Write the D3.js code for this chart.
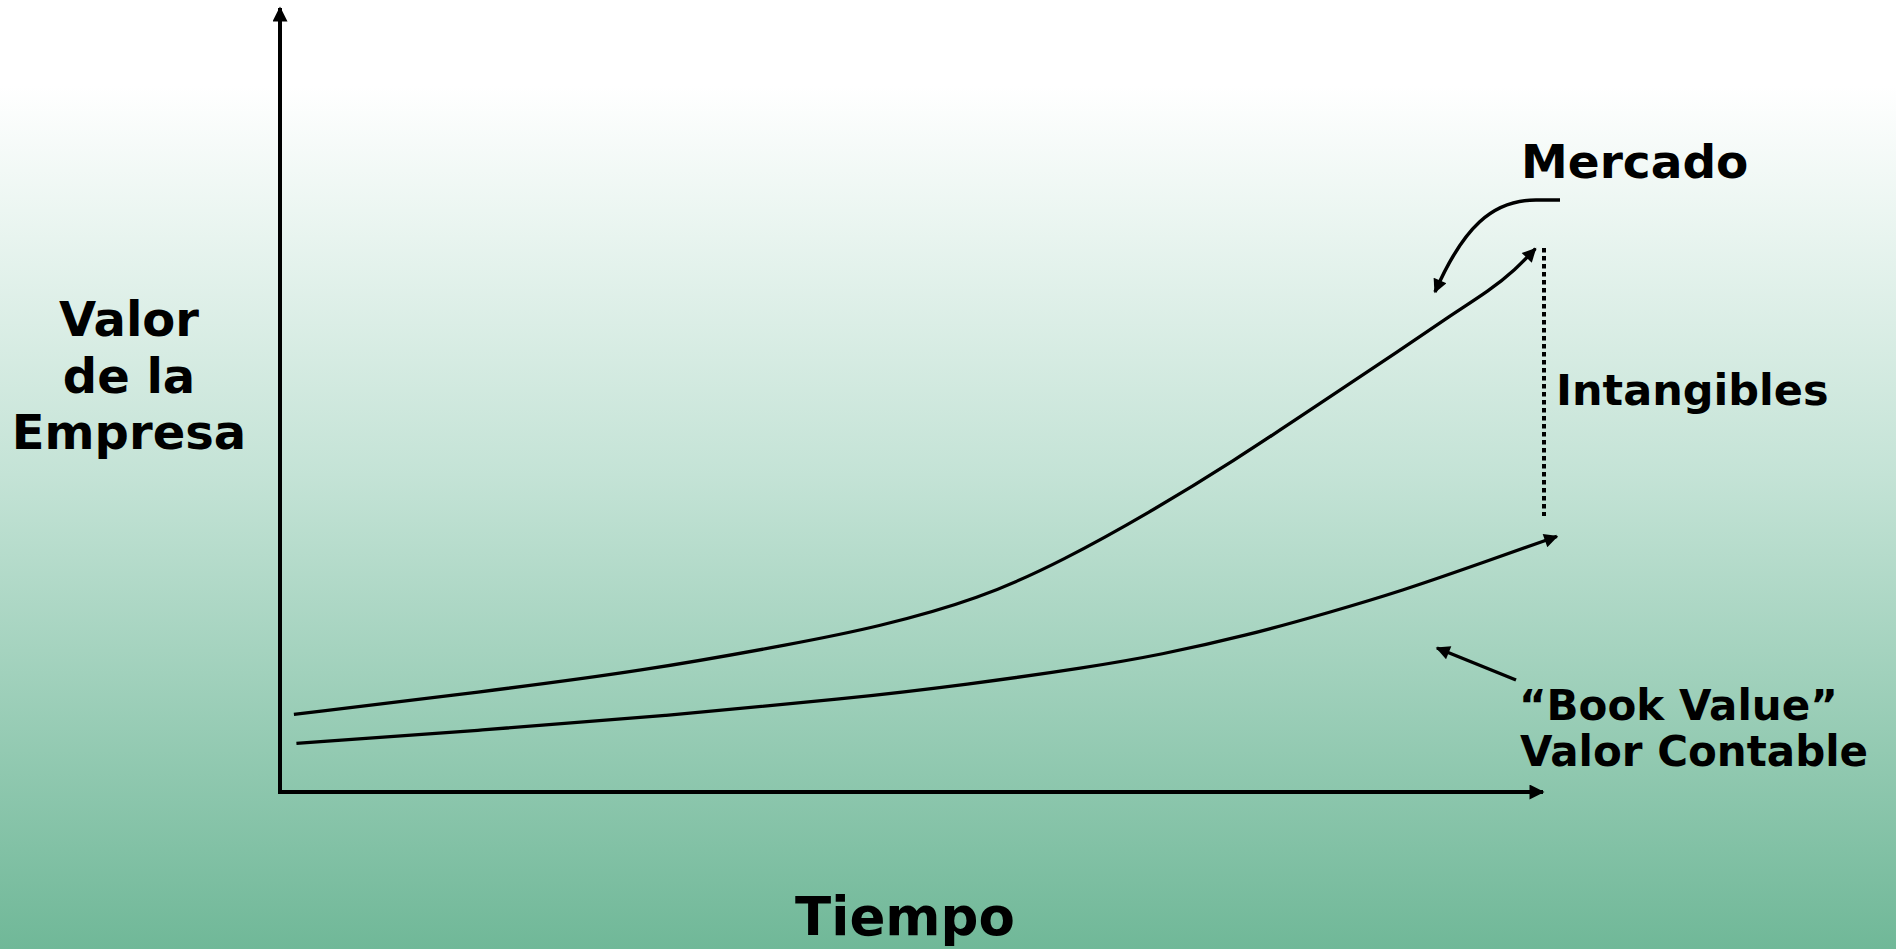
<!DOCTYPE html>
<html>
<head>
<meta charset="utf-8">
<script src="https://cdn.jsdelivr.net/npm/d3@7"></script>
<style>
html,body{margin:0;padding:0;overflow:hidden;}
svg{display:block;}
text{font-family:"DejaVu Sans",Verdana,sans-serif;font-weight:bold;fill:#000;}
</style>
</head>
<body>
<script>
// Tiempo (0-100) and Valor (0-100) readings
const mercadoTiempo = [1.1, 16.1, 28.6, 41.0, 47.2, 55.4, 62.1, 68.8, 75.5, 82.2, 88.9, 92.6, 95.8, 97.8, 99.4];
const mercadoValor  = [9.9, 12.8, 15.4, 19.0, 21.0, 24.6, 29.6, 35.6, 42.2, 49.4, 56.6, 60.7, 64.0, 66.6, 69.3];
const contableTiempo = [1.3, 16.1, 30.5, 44.9, 54.4, 64.0, 69.7, 76.4, 83.1, 88.9, 94.6, 101.1];
const contableValor  = [6.2, 7.9, 9.7, 11.9, 13.7, 15.9, 17.5, 19.9, 22.9, 25.7, 28.9, 32.6];
const ejeYLabel = ["Valor", "de la", "Empresa"];
const ejeXLabel = "Tiempo";
const serieLabels = ["Mercado", "Intangibles", "\u201CBook Value\u201D", "Valor Contable"];

const W = 1896, H = 949;
const svg = d3.select("body").append("svg").attr("width", W).attr("height", H);
const defs = svg.append("defs");

const grad = defs.append("linearGradient").attr("id","bg").attr("x1",0).attr("y1",0).attr("x2",0).attr("y2",1);
grad.append("stop").attr("offset","0").attr("stop-color","#ffffff");
grad.append("stop").attr("offset","0.09").attr("stop-color","#ffffff");
grad.append("stop").attr("offset","0.5").attr("stop-color","#c4e3d6");
grad.append("stop").attr("offset","1").attr("stop-color","#70b898");
svg.append("rect").attr("width",W).attr("height",H).attr("fill","url(#bg)");

function marker(id, len, wid){
  defs.append("marker").attr("id",id)
    .attr("viewBox","0 0 10 10").attr("refX",9).attr("refY",5)
    .attr("markerUnits","userSpaceOnUse")
    .attr("markerWidth",len).attr("markerHeight",wid)
    .attr("orient","auto")
    .append("path").attr("d","M0,0 L10,5 L0,10 Z").attr("fill","#000");
}
marker("ah", 17, 14);
marker("ahAxis", 16, 15);

const x = d3.scaleLinear().domain([0,100]).range([280, 1543]);
const y = d3.scaleLinear().domain([0,100]).range([792, 8]);

// axes
const g = svg.append("g");
g.append("line").attr("x1",x(0)).attr("y1",y(0)+2).attr("x2",x(0)).attr("y2",y(100))
  .attr("stroke","#000").attr("stroke-width",4).attr("marker-end","url(#ahAxis)");
g.append("line").attr("x1",x(0)-2).attr("y1",y(0)).attr("x2",x(100)).attr("y2",y(0))
  .attr("stroke","#000").attr("stroke-width",4).attr("marker-end","url(#ahAxis)");

const line = d3.line().x(d=>x(d[0])).y(d=>y(d[1])).curve(d3.curveBasis);
const mercado = mercadoTiempo.map((t,i)=>[t, mercadoValor[i]]);
const contable = contableTiempo.map((t,i)=>[t, contableValor[i]]);

g.append("path").attr("d", line(mercado)).attr("fill","none").attr("stroke","#000")
  .attr("stroke-width",3.3).attr("marker-end","url(#ah)");
g.append("path").attr("d", line(contable)).attr("fill","none").attr("stroke","#000")
  .attr("stroke-width",3.3).attr("marker-end","url(#ah)");

// intangibles dotted gap
g.append("line").attr("x1",1544).attr("y1",248).attr("x2",1544).attr("y2",516)
  .attr("stroke","#000").attr("stroke-width",4).attr("stroke-dasharray","4.5,3.5");

// annotation arrows
g.append("path").attr("d","M1560,200 L1536,200 C1492,200 1463,228 1435,292")
  .attr("fill","none").attr("stroke","#000").attr("stroke-width",3.5).attr("marker-end","url(#ah)");
g.append("path").attr("d","M1516,680 L1437,648")
  .attr("fill","none").attr("stroke","#000").attr("stroke-width",3.5).attr("marker-end","url(#ah)");

// labels
svg.append("text").attr("x",1521).attr("y",178).attr("font-size",47).text(serieLabels[0]);
svg.append("text").attr("x",1556).attr("y",405).attr("font-size",43).text(serieLabels[1]);
svg.append("text").attr("x",1519).attr("y",720).attr("font-size",42).text(serieLabels[2]);
svg.append("text").attr("x",1520).attr("y",766).attr("font-size",42).text(serieLabels[3]);

const yl = svg.append("text").attr("text-anchor","middle").attr("font-size",48);
ejeYLabel.forEach((s,i)=>{
  yl.append("tspan").attr("x",129).attr("y",336 + i*56.5).text(s);
});
svg.append("text").attr("x",905).attr("y",935).attr("text-anchor","middle").attr("font-size",53).text(ejeXLabel);
</script>
</body>
</html>
